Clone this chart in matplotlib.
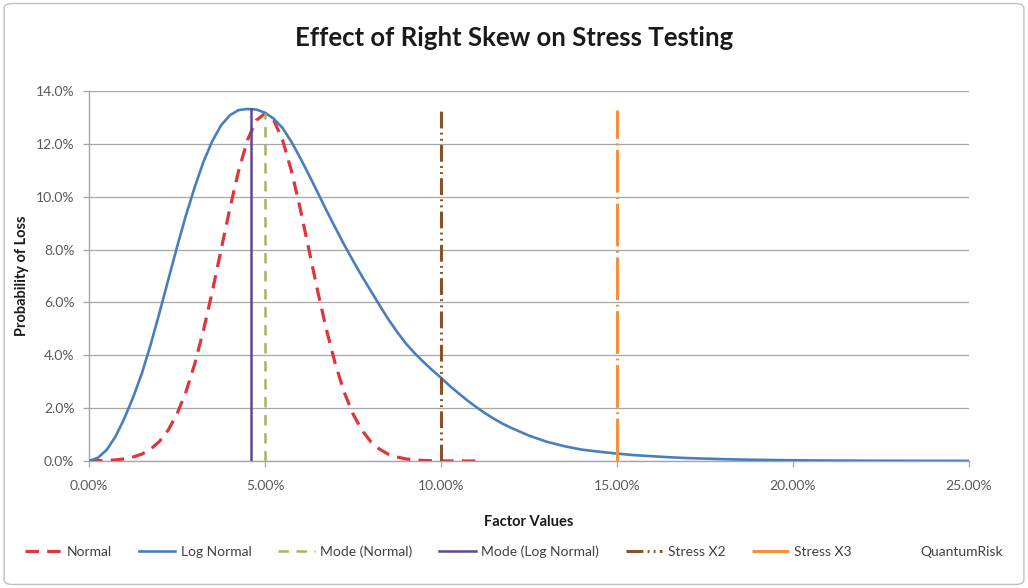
"""Effect of right skew on stress testing: normal vs log-normal loss curves."""
import matplotlib

matplotlib.use("Agg")
import matplotlib.pyplot as plt
from matplotlib.lines import Line2D
from matplotlib.patches import FancyBboxPatch
from matplotlib.ticker import FuncFormatter, MultipleLocator

plt.rcParams["font.family"] = ["Lato", "DejaVu Sans"]

# ---- data (values in percent) ----
lognormal_x = [0.0, 0.25, 0.5, 0.75, 1.0, 1.25, 1.5, 1.75, 2.0, 2.25, 2.5,
               2.75, 3.0, 3.25, 3.5, 3.75, 4.0, 4.25, 4.5, 4.75, 5.0, 5.25,
               5.5, 5.75, 6.0, 6.25, 6.5, 6.75, 7.0, 7.25, 7.5, 7.75, 8.0,
               8.25, 8.5, 8.75, 9.0, 9.25, 9.5, 9.75, 10.0, 10.25, 10.5, 10.75,
               11.0, 11.25, 11.5, 11.75, 12.0, 12.5, 13.0, 13.5, 14.0, 14.5,
               15.0, 15.5, 16.0, 16.5, 17.0, 17.5, 18.0, 18.5, 19.0, 19.5,
               20.0, 20.5, 21.0, 21.5, 22.0, 22.5, 23.0, 23.5, 24.0, 24.5, 25.0]
lognormal_y = [0.0, 0.12, 0.42, 0.92, 1.6, 2.4, 3.31, 4.4, 5.6, 6.85, 8.1,
               9.28, 10.35, 11.32, 12.1, 12.7, 13.08, 13.28, 13.32, 13.3,
               13.18, 12.95, 12.6, 12.08, 11.47, 10.82, 10.15, 9.47, 8.82,
               8.18, 7.58, 7.0, 6.45, 5.9, 5.37, 4.89, 4.45, 4.08, 3.75, 3.44,
               3.15, 2.84, 2.56, 2.29, 2.04, 1.81, 1.6, 1.41, 1.25, 0.96, 0.73,
               0.56, 0.43, 0.35, 0.28, 0.22, 0.18, 0.14, 0.11, 0.09, 0.07,
               0.055, 0.045, 0.035, 0.028, 0.022, 0.018, 0.014, 0.011, 0.009,
               0.007, 0.006, 0.005, 0.004, 0.003]

normal_x = [0.0, 0.25, 0.5, 0.75, 1.0, 1.25, 1.5, 1.75, 2.0, 2.25, 2.5, 2.75,
            3.0, 3.25, 3.5, 3.75, 4.0, 4.25, 4.5, 4.75, 5.0, 5.25, 5.5, 5.75,
            6.0, 6.25, 6.5, 6.75, 7.0, 7.25, 7.5, 7.75, 8.0, 8.25, 8.5, 8.75,
            9.0, 9.25, 9.5, 9.75, 10.0, 10.25, 10.5, 10.75, 11.0]
normal_y = [0.004, 0.010, 0.020, 0.041, 0.079, 0.15, 0.26, 0.45, 0.74, 1.17,
            1.78, 2.60, 3.66, 4.94, 6.40, 7.98, 9.55, 10.98, 12.14, 12.89,
            13.15, 12.89, 12.14, 10.98, 9.55, 7.98, 6.40, 4.94, 3.66, 2.60,
            1.78, 1.17, 0.74, 0.45, 0.26, 0.15, 0.079, 0.041, 0.020, 0.010,
            0.004, 0.002, 0.001, 0.0, 0.0]

mode_normal = 5.0
mode_normal_top = 13.15
mode_lognormal = 4.6
mode_lognormal_top = 13.32
stress_x2 = 10.0
stress_x3 = 15.0
stress_top = 13.3

TITLE = "Effect of Right Skew on Stress Testing"

fig = plt.figure(figsize=(10.28, 5.88), dpi=100)
fig.patches.append(FancyBboxPatch((0.004, 0.006), 0.992, 0.988,
                                  boxstyle="round,pad=0,rounding_size=0.008",
                                  transform=fig.transFigure, fill=False,
                                  edgecolor="#bfbfbf", linewidth=1.0))
ax = fig.add_axes([0.0866, 0.216, 0.8560, 0.6292])

ax.plot(normal_x, normal_y, color="#dc363e", lw=2.3, dashes=(4.2, 2.6),
        label="Normal", zorder=3)
ax.plot(lognormal_x, lognormal_y, color="#4a7ebb", lw=1.9, label="Log Normal",
        zorder=3)
ax.plot([mode_normal, mode_normal], [0, mode_normal_top], color="#9bbb59",
        lw=1.8, dashes=(4.2, 3.0), label="Mode (Normal)", zorder=4)
ax.plot([mode_lognormal, mode_lognormal], [0, mode_lognormal_top],
        color="#5c4a8c", lw=1.8, label="Mode (Log Normal)", zorder=4)
ax.plot([stress_x2, stress_x2], [0, stress_top], color="#84532a", lw=2.2,
        dashes=(5.5, 1.4, 0.6, 1.4, 0.6, 1.4), label="Stress X2", zorder=4)
ax.plot([stress_x3, stress_x3], [0, stress_top], color="#f0923e", lw=2.2,
        dashes=(14, 1.5, 0.6, 1.5), label="Stress X3", zorder=4)

ax.set_xlim(0, 25)
ax.set_ylim(0, 14)
ax.xaxis.set_major_locator(MultipleLocator(5))
ax.yaxis.set_major_locator(MultipleLocator(2))
ax.xaxis.set_major_formatter(FuncFormatter(lambda v, _: f"{v:.2f}%"))
ax.yaxis.set_major_formatter(FuncFormatter(lambda v, _: f"{v:.1f}%"))
ax.grid(axis="y", color="#a6a6a6", lw=0.9)
ax.set_axisbelow(True)
for side in ("top", "right"):
    ax.spines[side].set_visible(False)
for side in ("left", "bottom"):
    ax.spines[side].set_color("#a6a6a6")
    ax.spines[side].set_linewidth(1.0)
ax.tick_params(axis="both", colors="#a6a6a6", labelcolor="#595959",
               labelsize=10, length=4.5, width=0.9)
ax.tick_params(axis="x", pad=9)
ax.tick_params(axis="y", pad=6)

fig.suptitle(TITLE, x=0.5, y=1 - 38 / 588, va="center", fontsize=18.5,
             fontweight="bold", color="#1a1a1a")
ax.set_xlabel("Factor Values", fontsize=10.5, fontweight="bold",
              color="#1a1a1a", labelpad=17)
ax.set_ylabel("Probability of Loss", fontsize=10.5, fontweight="bold",
              color="#1a1a1a", labelpad=5)

handles, labels = ax.get_legend_handles_labels()
handles.append(Line2D([], [], color="none"))
labels.append("QuantumRisk")
fig.legend(handles, labels, loc="center", bbox_to_anchor=(0.5, 0.062),
           ncol=7, frameon=False, fontsize=10, handlelength=2.6,
           columnspacing=1.95, handletextpad=0.4, labelcolor="#404040")

fig.savefig("out.png", dpi=100)
